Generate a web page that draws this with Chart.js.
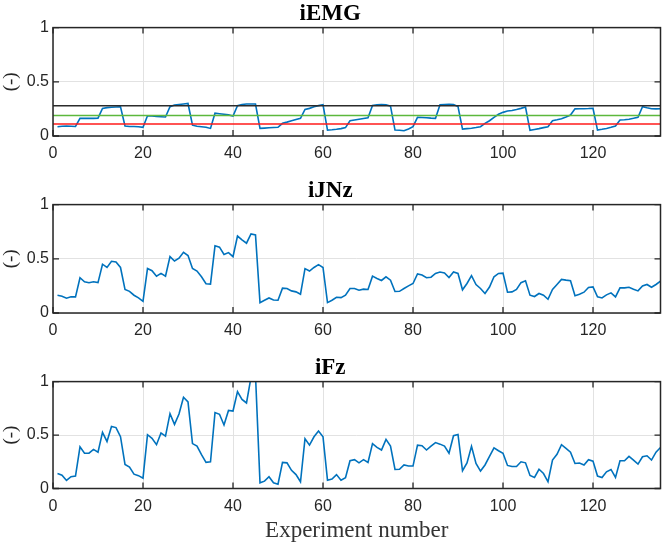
<!DOCTYPE html>
<html>
<head>
<meta charset="utf-8">
<script src="https://cdn.jsdelivr.net/npm/chart.js@4.4.0/dist/chart.umd.min.js"></script>
<style>
  body { margin: 0; background: #fff; }
  #wrap { position: relative; width: 662px; height: 545px; }
  .panel { position: absolute; left: 0; width: 662px; }
</style>
</head>
<body>
<div id="wrap">
  <div class="panel" style="top:0px"><canvas id="c1" width="662" height="177"></canvas></div>
  <div class="panel" style="top:177px"><canvas id="c2" width="662" height="177"></canvas></div>
  <div class="panel" style="top:354px"><canvas id="c3" width="662" height="191"></canvas></div>
</div>
<script>
// values, one per experiment (1..135)
const iEMG = [
  0.085, 0.09, 0.092, 0.09, 0.088, 0.163, 0.163, 0.163, 0.163, 0.165, 0.255, 0.262, 0.265, 0.268, 0.27,
  0.092, 0.088, 0.088, 0.086, 0.08, 0.187, 0.185, 0.18, 0.178, 0.175, 0.27, 0.285, 0.29, 0.295, 0.3,
  0.1, 0.09, 0.085, 0.08, 0.07, 0.21, 0.205, 0.2, 0.195, 0.185, 0.28, 0.29, 0.295, 0.295, 0.295,
  0.07, 0.073, 0.076, 0.078, 0.08, 0.117, 0.128, 0.14, 0.152, 0.163, 0.245, 0.255, 0.27, 0.28, 0.288,
  0.055, 0.058, 0.062, 0.068, 0.077, 0.141, 0.148, 0.155, 0.162, 0.169, 0.282, 0.288, 0.291, 0.287, 0.276,
  0.055, 0.053, 0.049, 0.065, 0.086, 0.172, 0.17, 0.168, 0.165, 0.163, 0.288, 0.29, 0.292, 0.29, 0.272,
  0.064, 0.068, 0.072, 0.078, 0.086, 0.117, 0.141, 0.172, 0.2, 0.218, 0.23, 0.236, 0.245, 0.255, 0.267,
  0.052, 0.06, 0.068, 0.077, 0.086, 0.141, 0.15, 0.16, 0.175, 0.193, 0.25, 0.252, 0.252, 0.253, 0.255,
  0.055, 0.062, 0.07, 0.08, 0.092, 0.147, 0.15, 0.155, 0.163, 0.172, 0.27, 0.26, 0.252, 0.25, 0.252
];
const iJNz = [
  0.164, 0.155, 0.136, 0.149, 0.149, 0.325, 0.288, 0.279, 0.288, 0.28,
  0.45, 0.42, 0.477, 0.47, 0.42, 0.217, 0.2, 0.164, 0.14, 0.108,
  0.41, 0.39, 0.34, 0.365, 0.34, 0.52, 0.48, 0.505, 0.56, 0.53,
  0.41, 0.387, 0.334, 0.27, 0.266, 0.62, 0.607, 0.54, 0.557, 0.52,
  0.71, 0.675, 0.644, 0.73, 0.72, 0.096, 0.118, 0.139, 0.12, 0.118,
  0.229, 0.226, 0.204, 0.195, 0.173, 0.409, 0.387, 0.42, 0.446, 0.42,
  0.096, 0.118, 0.145, 0.142, 0.164, 0.226, 0.226, 0.21, 0.22, 0.217,
  0.34, 0.319, 0.3, 0.334, 0.303, 0.198, 0.2, 0.226, 0.25, 0.272,
  0.36, 0.35, 0.325, 0.33, 0.365, 0.378, 0.37, 0.328, 0.378, 0.365,
  0.214, 0.272, 0.344, 0.263, 0.226, 0.18, 0.24, 0.334, 0.365, 0.368,
  0.192, 0.195, 0.217, 0.28, 0.297, 0.164, 0.152, 0.18, 0.164, 0.127,
  0.217, 0.263, 0.31, 0.303, 0.297, 0.16, 0.173, 0.192, 0.235, 0.241,
  0.149, 0.139, 0.167, 0.186, 0.149, 0.232, 0.232, 0.238, 0.22, 0.204,
  0.25, 0.263, 0.238, 0.263, 0.294
];
const iFz = [
  0.14, 0.125, 0.075, 0.11, 0.116, 0.39, 0.33, 0.33, 0.366, 0.34,
  0.525, 0.44, 0.58, 0.57, 0.485, 0.225, 0.2, 0.134, 0.12, 0.097,
  0.503, 0.47, 0.41, 0.52, 0.49, 0.7, 0.6, 0.697, 0.853, 0.81,
  0.42, 0.397, 0.316, 0.244, 0.25, 0.71, 0.694, 0.594, 0.73, 0.725,
  0.906, 0.834, 0.8, 1.04, 1.06, 0.053, 0.069, 0.11, 0.053, 0.04,
  0.244, 0.24, 0.17, 0.13, 0.063, 0.465, 0.406, 0.484, 0.537, 0.484,
  0.078, 0.088, 0.13, 0.078, 0.1, 0.26, 0.27, 0.24, 0.27, 0.244,
  0.42, 0.384, 0.36, 0.46, 0.397, 0.178, 0.18, 0.22, 0.21, 0.21,
  0.406, 0.4, 0.36, 0.397, 0.43, 0.415, 0.397, 0.33, 0.494, 0.506,
  0.166, 0.24, 0.394, 0.234, 0.163, 0.22, 0.3, 0.38, 0.353, 0.33,
  0.216, 0.206, 0.206, 0.25, 0.24, 0.122, 0.103, 0.18, 0.14, 0.063,
  0.266, 0.32, 0.41, 0.375, 0.34, 0.234, 0.238, 0.22, 0.27, 0.256,
  0.116, 0.103, 0.156, 0.178, 0.103, 0.26, 0.26, 0.3, 0.266, 0.228,
  0.297, 0.306, 0.266, 0.34, 0.384
];

// horizontal reference levels in the iEMG panel (top to bottom)
const emgLevels = [0.28, 0.19, 0.11];
const emgLevelColors = ["#2b2b2b", "#5cb83c", "#ff1a1a"];

// axis limits and tick labels
const xRange = [0, 135];
const xTicks = [0, 20, 40, 60, 80, 100, 120];
const yTicks = [0, 0.5, 1];

const axisColor = "#262626";
const lineBlue = "#0072bd";

// experiment numbers are just the position in each series
const toPoints = arr => arr.map((v, i) => ({ x: i + 1, y: v }));

// MATLAB style box with tick marks pointing inwards
const boxTicks = {
  id: "boxTicks",
  afterDatasetsDraw(chart) {
    const { ctx, chartArea: a, scales: { x, y } } = chart;
    ctx.save();
    ctx.strokeStyle = axisColor;
    ctx.lineWidth = 1.3;
    ctx.beginPath();
    xTicks.forEach(v => {
      const px = x.getPixelForValue(v);
      ctx.moveTo(px, a.bottom); ctx.lineTo(px, a.bottom - 6);
      ctx.moveTo(px, a.top); ctx.lineTo(px, a.top + 6);
    });
    yTicks.forEach(v => {
      const py = y.getPixelForValue(v);
      ctx.moveTo(a.left, py); ctx.lineTo(a.left + 6, py);
      ctx.moveTo(a.right, py); ctx.lineTo(a.right - 6, py);
    });
    ctx.stroke();
    ctx.lineWidth = 1.5;
    ctx.strokeRect(a.left, a.top, a.right - a.left, a.bottom - a.top);
    ctx.restore();
  }
};

function makePanel(id, title, series, extra, plotBottom, xTitle) {
  const canvas = document.getElementById(id);
  const datasets = (extra || []).concat([{
    data: toPoints(series),
    borderColor: lineBlue,
    borderWidth: 1.6,
    pointRadius: 0,
    tension: 0
  }]);

  return new Chart(canvas, {
    type: "line",
    data: { datasets },
    plugins: [boxTicks],
    options: {
      responsive: false,
      animation: false,
      devicePixelRatio: 1,
      layout: { padding: { left: 0, right: 1.5, top: 0, bottom: 0 } },
      plugins: {
        legend: { display: false },
        tooltip: { enabled: false },
        title: {
          display: true,
          text: title,
          color: "#000",
          font: { family: "Liberation Serif", size: 23, weight: "bold" },
          padding: { top: 0, bottom: 0 }
        }
      },
      scales: {
        x: {
          type: "linear",
          min: xRange[0],
          max: xRange[1],
          afterBuildTicks: s => { s.ticks = xTicks.map(v => ({ value: v })); },
          afterFit: s => { s.height = canvas.height - plotBottom; },
          ticks: {
            color: axisColor,
            font: { family: "Liberation Sans", size: 16 },
            padding: 8,
            maxRotation: 0,
            callback: v => String(v)
          },
          grid: { color: "#e2e2e2", lineWidth: 1, drawTicks: false },
          border: { display: false },
          title: {
            display: !!xTitle,
            text: xTitle || "",
            color: "#333",
            font: { family: "Liberation Serif", size: 23 },
            padding: { top: 0, bottom: 0 }
          }
        },
        y: {
          min: 0,
          max: 1,
          afterBuildTicks: s => { s.ticks = yTicks.map(v => ({ value: v })); },
          afterFit: s => { s.width = 53; },
          ticks: {
            color: axisColor,
            font: { family: "Liberation Sans", size: 16 },
            padding: 4,
            callback: v => String(v)
          },
          grid: { color: "#e2e2e2", lineWidth: 1, drawTicks: false },
          border: { display: false },
          title: {
            display: true,
            text: "(-)",
            color: axisColor,
            font: { family: "Liberation Serif", size: 19 },
            padding: { top: 0, bottom: 0 }
          }
        }
      }
    }
  });
}

document.addEventListener("DOMContentLoaded", () => {
  // reference lines span the whole x range
  const levelSets = emgLevels.map((lvl, i) => ({
    data: [{ x: xRange[0], y: lvl }, { x: xRange[1], y: lvl }],
    borderColor: emgLevelColors[i],
    borderWidth: 1.5,
    pointRadius: 0
  }));

  makePanel("c1", "iEMG", iEMG, levelSets, 136);
  makePanel("c2", "iJNz", iJNz, null, 136);
  makePanel("c3", "iFz", iFz, null, 134.5, "Experiment number");
});
</script>
</body>
</html>
